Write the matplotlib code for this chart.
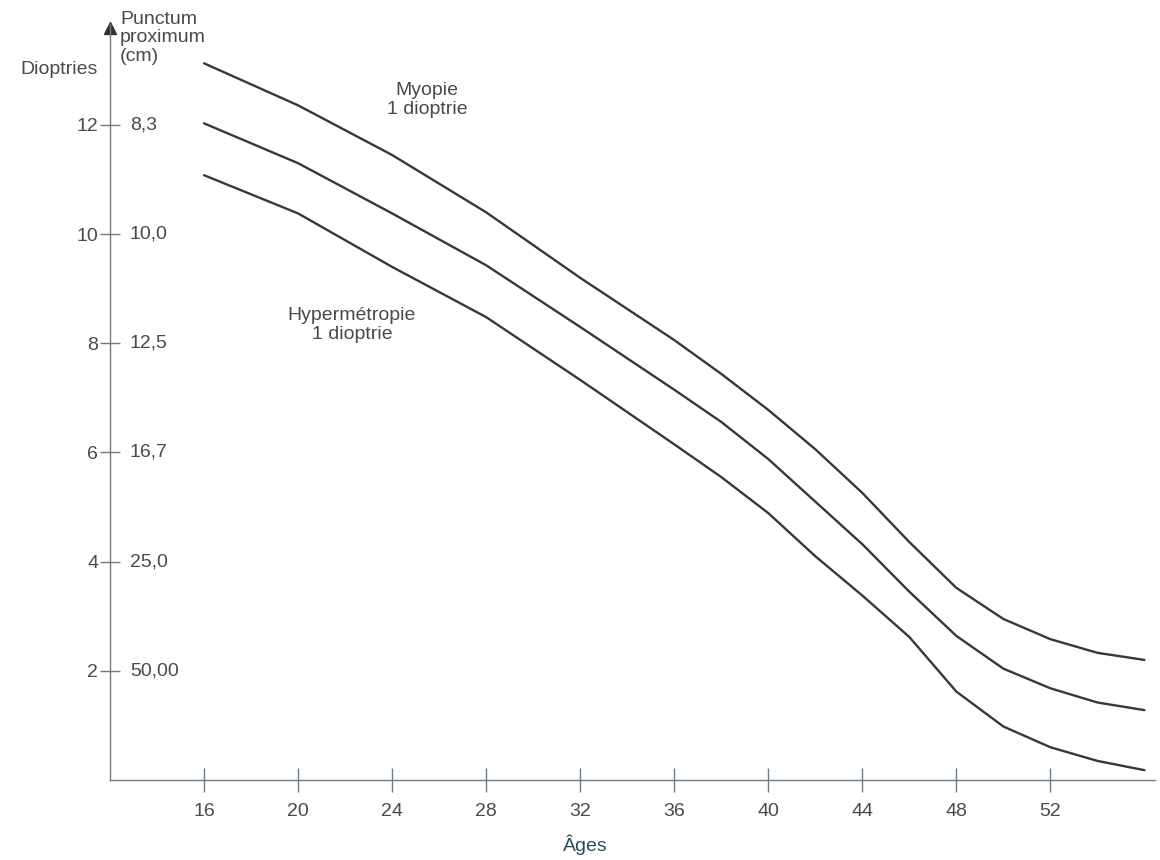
import matplotlib.pyplot as plt
from matplotlib.transforms import blended_transform_factory

# values
ages = [16, 20, 24, 28, 32, 36, 38, 40, 42, 44, 46, 48, 50, 52, 54, 56]
myopie = [13.13, 12.36, 11.45, 10.4, 9.2, 8.06, 7.44, 6.78, 6.06, 5.26, 4.36, 3.52, 2.95, 2.58, 2.33, 2.2]
emmetropie = [12.03, 11.3, 10.38, 9.43, 8.3, 7.15, 6.56, 5.88, 5.1, 4.32, 3.45, 2.64, 2.04, 1.68, 1.42, 1.28]
hypermetropie = [11.08, 10.38, 9.4, 8.48, 7.33, 6.15, 5.55, 4.89, 4.1, 3.38, 2.62, 1.62, 0.98, 0.6, 0.35, 0.18]

dioptries = [2, 4, 6, 8, 10, 12]
punctum = ['50,00', '25,0', '16,7', '12,5', '10,0', '8,3']
age_ticks = [16, 20, 24, 28, 32, 36, 40, 44, 48, 52]

plt.rcParams['font.family'] = ['Liberation Sans', 'DejaVu Sans']
txt = '#4a4a4a'
axis_col = '#6f7a82'
fs = 14

fig = plt.figure(figsize=(11.6, 8.6), dpi=100)
ax = fig.add_axes([110 / 1160, 80 / 860, 1045 / 1160, 756 / 860])

for serie in (myopie, emmetropie, hypermetropie):
    ax.plot(ages, serie, color='#383838', lw=1.7, solid_capstyle='round',
            solid_joinstyle='round')

ax.set_xlim(12, 56.45)
ax.set_ylim(0, 13.85)

for side in ('top', 'right'):
    ax.spines[side].set_visible(False)
for side in ('left', 'bottom'):
    ax.spines[side].set_color(axis_col)
    ax.spines[side].set_linewidth(1.0)

# arrow at the top of the y axis
ax.plot([0], [13.78], marker='^', color='#333333', markersize=9,
        transform=blended_transform_factory(ax.transAxes, ax.transData), clip_on=False)

ax.set_yticks(dioptries)
ax.set_yticklabels([str(d) for d in dioptries])
ax.set_xticks(age_ticks)
ax.tick_params(axis='both', direction='inout', color=axis_col, width=1.0,
               labelcolor=txt, labelsize=fs)
ax.tick_params(axis='y', length=15, pad=1)
ax.tick_params(axis='x', length=17, pad=8)

# punctum proximum values on the right of the axis
trans = blended_transform_factory(ax.transAxes, ax.transData)
for d, p in zip(dioptries, punctum):
    ax.text(0.019, d, p, transform=trans, ha='left', va='center', fontsize=fs, color=txt)

fig.text(98 / 1160, 1 - 70 / 860, 'Dioptries', ha='right', va='center', fontsize=fs, color=txt)
fig.text(120 / 1160, 1 - 38 / 860, 'Punctum\nproximum\n(cm)', ha='left', va='center',
         fontsize=fs, color=txt, linespacing=1.1)
fig.text(427 / 1160, 1 - 100 / 860, 'Myopie\n1 dioptrie', ha='center', va='center',
         fontsize=fs, color=txt, linespacing=1.1)
fig.text(352 / 1160, 1 - 325 / 860, 'Hypermétropie\n1 dioptrie', ha='center', va='center',
         fontsize=fs, color=txt, linespacing=1.1)
fig.text(585 / 1160, 1 - 845 / 860, 'Âges', ha='center', va='center', fontsize=fs,
         color='#2f4a58')

fig.savefig('out.png', dpi=100, facecolor='white')
